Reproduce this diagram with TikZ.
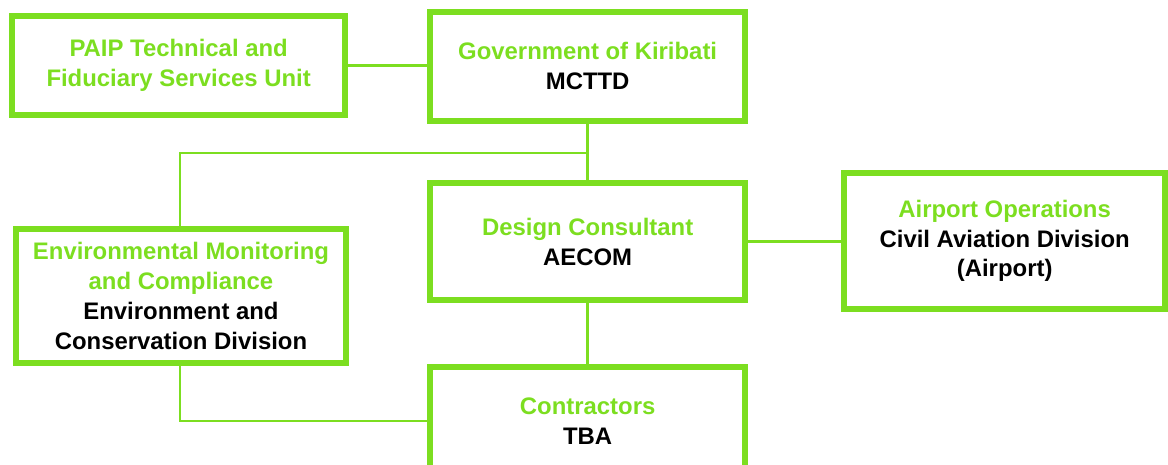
\documentclass[tikz,border=0pt]{standalone}
\usepackage{fontspec}
\setmainfont{Liberation Sans}
\usetikzlibrary{positioning,calc}
\definecolor{kgreen}{RGB}{124,222,32}

\begin{document}
\begin{tikzpicture}[
  font=\fontsize{20.4}{25.4}\selectfont\bfseries,
  box/.style={draw=kgreen, line width=5.1pt, minimum width=9.45cm, minimum height=3.3cm,
              align=center, inner sep=3pt},
  link/.style={draw=kgreen, line width=2.5pt}]

\def\lx{5.4}     % left column centre
\def\mx{17.63}   % middle column centre
\def\rx{30.14}   % right column centre
\newcommand{\hd}[1]{{\color{kgreen}#1}}

\useasboundingbox (0,0) rectangle (35.04,-13.95);

% top row
\node[box, minimum width=9.99cm, minimum height=2.97cm] (tfsu) at (5.36,-1.97)
  {\hd{PAIP Technical and}\\\hd{Fiduciary Services Unit}};
\node[box, minimum height=3.27cm] (gok) at (\mx,-1.99)
  {\hd{Government of Kiribati}\\MCTTD};

% middle row
\node[box, minimum height=3.51cm] (dc) at (\mx,-7.25)
  {\hd{Design Consultant}\\AECOM};
\node[box, minimum width=9.63cm, minimum height=4.08cm] (apo) at (\rx,-7.23)
  {\hd{Airport Operations}\\Civil Aviation Division\\(Airport)};
\node[box, minimum width=9.9cm, minimum height=4.02cm] (emc) at (5.43,-8.88)
  {\hd{Environmental Monitoring}\\\hd{and Compliance}\\Environment and\\Conservation Division};

% bottom row
\node[box, minimum height=3.24cm] (ctr) at (\mx,-12.63)
  {\hd{Contractors}\\TBA};

\coordinate (split) at (\mx,-4.59);

\draw[link] (tfsu.east) -- (tfsu.east -| gok.west);
\draw[link] (gok) -- (dc);
\draw[link] (split) -| (\lx,-4.59) -- (\lx,-4.59 |- emc.north);
\draw[link] (dc) -- (ctr);
\draw[link] (dc.east) -- (dc.east -| apo.west);
\draw[link] (\lx,-4.59 |- emc.south) |- (ctr.west);
\end{tikzpicture}
\end{document}
